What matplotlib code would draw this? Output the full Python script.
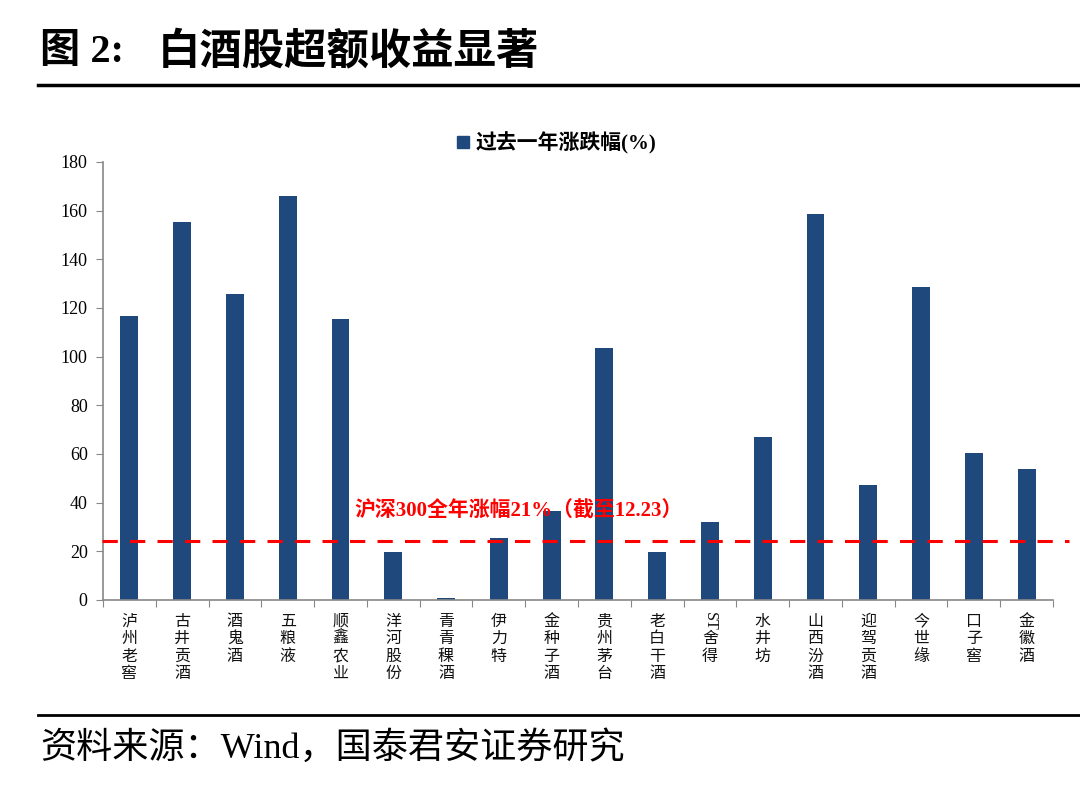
import matplotlib
matplotlib.use("Agg")
import matplotlib.pyplot as plt
from matplotlib.lines import Line2D
import matplotlib.transforms as mtransforms

categories = ["泸州老窖", "古井贡酒", "酒鬼酒", "五粮液", "顺鑫农业", "洋河股份", "青青稞酒", "伊力特", "金种子酒",
              "贵州茅台", "老白干酒", "ST舍得", "水井坊", "山西汾酒", "迎驾贡酒", "今世缘", "口子窖", "金徽酒"]
values = [116.7, 155.4, 125.8, 166.0, 115.5, 19.7, 0.8, 25.5, 36.6,
          103.6, 19.7, 32.0, 67.0, 158.6, 47.3, 128.6, 60.4, 53.8]
benchmark = 24.3
yticks = [0, 20, 40, 60, 80, 100, 120, 140, 160, 180]
series_name = "过去一年涨跌幅(%)"
bench_label = "沪深300全年涨幅21%（截至12.23）"
title_prefix = "图 2:"
title_main = "白酒股超额收益显著"
source = "资料来源：Wind，国泰君安证券研究"

SERIF = ["Liberation Serif", "Noto Sans CJK SC"]
plt.rcParams["font.family"] = SERIF
BAR = "#1F497D"

fig = plt.figure(figsize=(10.8, 7.87), dpi=100)
W, H = 1080, 787
ax = fig.add_axes([103 / W, 1 - 600 / H, (1053 - 103) / W, (600 - 162) / H])

x = list(range(len(categories)))
ax.bar(x, values, width=0.34, color=BAR, zorder=2)
ax.set_xlim(-0.5, len(categories) - 0.5)
ax.set_ylim(0, 180)
ax.set_yticks(yticks)
ax.set_yticklabels([str(v) for v in yticks], fontsize=13, family="Liberation Serif")
ax.tick_params(axis="y", length=5, color="#888888", pad=6)
ax.set_xticks([i - 0.5 for i in range(len(categories) + 1)])
ax.set_xticklabels([])
ax.tick_params(axis="x", length=5, color="#888888", direction="out")
for s in ["top", "right"]:
    ax.spines[s].set_visible(False)
for s in ["left", "bottom"]:
    ax.spines[s].set_color("#888888")
    ax.spines[s].set_linewidth(1.2)

# benchmark dashed line
ax.plot([-0.52, len(categories) - 0.2], [benchmark, benchmark], color="#FF0000", lw=2.2,
        ls=(0, (5, 4)), clip_on=False, zorder=3)
ax.text(4.27, 36.3, bench_label, color="#FF0000", fontsize=15, fontweight="bold",
        ha="left", va="center", zorder=4)

# vertical category labels
for i, name in enumerate(categories):
    tokens = []
    j = 0
    while j < len(name):
        if name[j].isascii():
            k = j
            while k < len(name) and name[k].isascii():
                k += 1
            tokens.append((name[j:k], True))
            j = k
        else:
            tokens.append((name[j], False))
            j += 1
    for n, (tok, rot) in enumerate(tokens):
        off = mtransforms.offset_copy(ax.get_xaxis_transform(), fig=fig, x=0, y=-(15.5 + n * 12.6), units="points")
        ax.text(i, 0, tok, transform=off, ha="center", va="center", fontsize=11.5,
                rotation=-90 if rot else 0, color="#111111")

# legend
handle = Line2D([0], [0], marker="s", color="none", markerfacecolor=BAR, markeredgecolor=BAR, markersize=9)
leg = fig.legend([handle], [series_name], loc="center", bbox_to_anchor=(557 / W, 1 - 143 / H),
                 frameon=False, handlelength=0.6, handletextpad=0.3,
                 prop={"family": SERIF, "size": 15, "weight": "bold"})

# title and rules
fig.text(40 / W, 1 - 52 / H, title_prefix, fontsize=29, fontweight="bold", ha="left", va="center")
fig.text(158 / W, 1 - 52 / H, title_main, fontsize=30.5, fontweight="bold", ha="left", va="center")
fig.add_artist(Line2D([38 / W, 1.0], [1 - 85 / H, 1 - 85 / H], color="black", lw=2.5))
fig.add_artist(Line2D([38 / W, 1.0], [1 - 715 / H, 1 - 715 / H], color="black", lw=2))
fig.text(40 / W, 1 - 748 / H, source, fontsize=26, ha="left", va="center")

fig.savefig("out.png", dpi=100, facecolor="white")
